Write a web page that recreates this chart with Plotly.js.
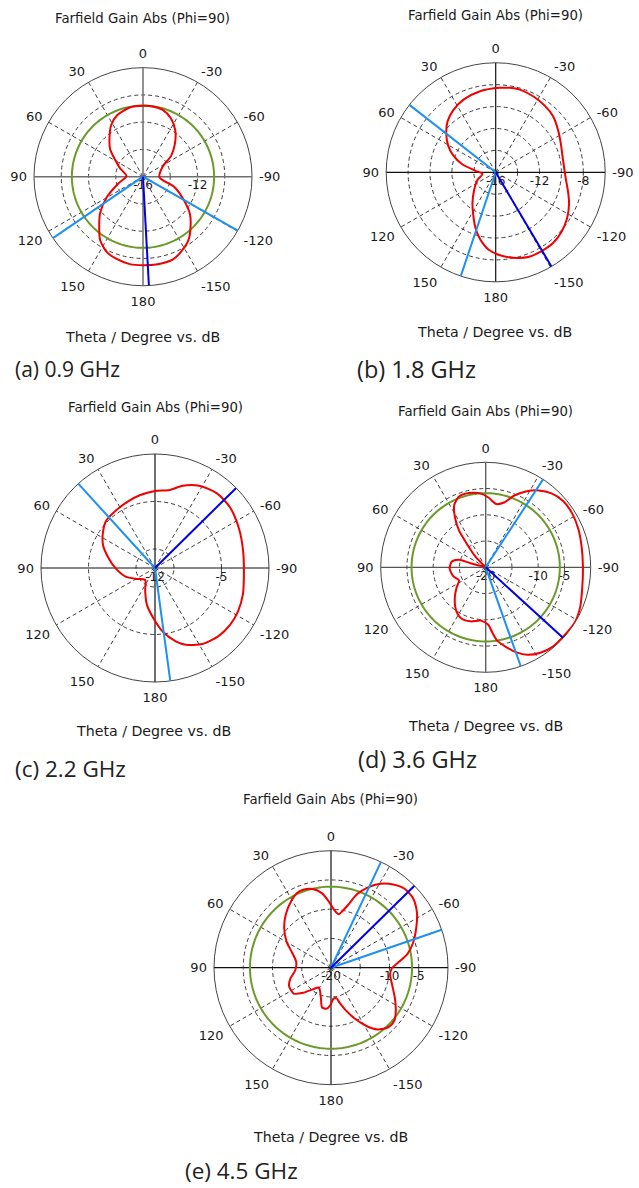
<!DOCTYPE html>
<html><head><meta charset="utf-8">
<script src="https://cdn.plot.ly/plotly-3.0.1.min.js"></script>
<style>html,body{margin:0;padding:0;background:#fff}#chart{width:639px;height:1188px}</style>
</head><body><div id="chart"></div>
<script>
// ---------------- data (theta in degrees, gain in dB) ----------------
const angTickVals = [0,30,60,90,120,150,180,210,240,270,300,330];
const angTickText = ["0","30","60","90","120","150","180","-150","-120","-90","-60","-30"];
const axisSpokes = [0,90,180,270];
const gridSpokes = [30,60,120,150,210,240,300,330];

const captions = ["(a) 0.9 GHz","(b) 1.8 GHz","(c) 2.2 GHz","(d) 3.6 GHz","(e) 4.5 GHz"];
const plotTitle = "Farfield Gain Abs (Phi=90)";
const axisTitle = "Theta / Degree vs. dB";

const thetaA = [0,10.8,22.6,31.8,41.7,50.2,58.6,69.5,87.7,105.5,119.6,130,139.6,146,154.4,162.2,171.4,180,-171.5,-160.3,-153.4,-144.4,-137.3,-128.7,-120.2,-108.1,-92.3,-62.6,-53.7,-44.4,-34.9,-25.7,-16.5,-8];
const gainA  = [-10.79,-10.83,-11.10,-11.56,-12.30,-12.86,-13.59,-14.19,-14.79,-14.12,-12.94,-11.90,-11.04,-10.38,-9.86,-9.66,-9.51,-9.51,-9.49,-9.54,-9.81,-10.27,-10.86,-11.58,-12.50,-13.58,-14.79,-14.37,-13.45,-12.66,-11.86,-11.26,-10.89,-10.79];

const thetaB = [-2.9,10.9,23.9,33.9,43.4,51.6,60.1,67.9,76.2,85.4,97.1,112.8,129.4,143.3,153.5,161.3,167.6,174.6,-177,-168.4,-159,-149.8,-140.9,-132.2,-122.9,-113,-105,-94.9,-79.6,-65.9,-56.9,-45.7,-36.3,-26.2,-16.3,-9.6];
const gainB  = [-8.28,-8.46,-8.74,-9.11,-9.60,-10.24,-10.97,-11.78,-12.82,-14.11,-14.78,-14.19,-13.45,-12.45,-11.45,-10.42,-9.64,-8.91,-8.41,-8.04,-7.71,-7.68,-7.69,-7.90,-8.24,-8.72,-9.16,-9.58,-9.75,-9.49,-9.16,-8.68,-8.44,-8.26,-8.13,-8.18];

const thetaC = [0,11.4,22.7,34.2,46,55.9,65.9,76.5,91,106.3,121.4,140.7,156.8,167.5,178.2,-172.8,-163.9,-158,-148.2,-137,-127.4,-117.6,-106.7,-93.7,-78.3,-64.2,-50.8,-39.7,-28.2,-18.6,-10.7];
const gainC  = [-3.89,-4.16,-4.45,-4.68,-4.85,-5.38,-6.00,-6.89,-7.88,-8.78,-9.79,-10.37,-9.37,-8.05,-6.71,-5.21,-3.94,-3.29,-2.58,-2.20,-2.08,-2.14,-2.34,-2.62,-2.54,-2.22,-1.84,-1.79,-2.18,-2.87,-3.64];

const thetaD = [55,43.6,38.9,36,31.5,26.8,20.6,12.8,4.3,-2.2,-9.6,-16.2,-21.7,-27.8,-34.6,-41.7,-49.4,-58.2,-67.5,-77.5,-89.6,-101.6,-113,-122.1,-132.4,-139.7,-147.4,-154.6,-160.4,-165.6,-171,-174.3,-177.4,174.9,164.2,153.7,144.6,134.3,124.4,116,105.3,91.7,80.3,74.2,75,70];
const gainD  = [-19.6,-17.12,-14.4,-11.38,-8.76,-6.7,-5.6,-5.5,-5.88,-6.7,-7.78,-7.1,-5.28,-3.66,-2.2,-1.14,-0.58,-0.6,-0.9,-1.3,-1.48,-1.22,-0.46,-0.04,-0.2,-0.2,-0.68,-1.54,-2.84,-4.32,-5.82,-7.56,-9.04,-9.8,-9.3,-9.24,-10.16,-11.78,-13.32,-14.34,-13.58,-13.12,-13.46,-14.72,-16.98,-19.4];

const thetaE = [19.7,13.1,6.8,1.6,-3.8,-8.1,-10.9,-14.9,-19.5,-24.7,-30.6,-36.8,-43.2,-50,-57.3,-64.3,-72.8,-79.7,-84.7,-90.7,-96.8,-106.5,-115.5,-123.3,-130,-135.9,-143,-148.7,-154.6,-160.8,-166.3,-170,-176,180,174.3,167.4,161.7,148.8,139.7,132,124.7,113.4,104.6,94,80.8,68.9,60,49.9,40.2,31,24.7];
const gainE  = [-5.86,-6.2,-7.2,-8.78,-10.24,-10.78,-10.26,-9.0,-6.7,-4.88,-3.34,-2.24,-1.54,-1.64,-2.54,-3.8,-5.28,-6.7,-8.22,-9.62,-9.82,-9.06,-7.9,-6.74,-5.88,-5.86,-6.78,-8.34,-10.28,-12.28,-13.86,-14.72,-14.62,-13.8,-12.98,-13.02,-14.52,-16.02,-15.14,-13.58,-12.24,-12.18,-12.86,-13.88,-13.98,-12.88,-11.26,-9.54,-8.04,-6.76,-6.0];

// radial scales
const rangeA = [-16,-8],  ringsA = [-16,-14,-12,-10,-8],      ringLabA = ["-16","","-12","",""];
const rangeB = [-16,-6],  ringsB = [-16,-14,-12,-10,-8,-6],   ringLabB = ["-16","","-12","","-8",""];
const rangeC = [-12,0],   ringsC = [-12,-10,-5,0],            ringLabC = ["-12","","-5",""];
const rangeD = [-20,0],   ringsD = [-20,-15,-10,-5,0],        ringLabD = ["-20","","-10","-5",""];
const rangeE = [-20,0],   ringsE = [-20,-15,-10,-5,0],        ringLabE = ["-20","","-10","-5",""];

// -3 dB level circles (null = not shown)
const levelA = -10.78, levelB = null, levelC = null, levelD = -5.88, levelE = -6.15;
// 3 dB angular width limits (light blue) and main lobe direction (dark blue)
const beamA = [124.3,-119.7], mainA = [-176.9];
const beamB = [52,161.4],     mainB = [-149.4];
const beamC = [42.3,-172.3],  mainC = [-45.4];
const beamD = [-33.1,-160.5], mainD = [-132.4];
const beamE = [-25.3,-71.1],  mainE = [-45.5];

// ---------------- layout (pixel geometry) ----------------
const W = 639, H = 1188;
const panels = [
  {theta:thetaA, gain:gainA, range:rangeA, rings:ringsA, ringLab:ringLabA, level:levelA, beam:beamA, main:mainA,
   cx:143, cy:176.7, R:109, axisColor:'#6e6e6e', axisWidth:1.5, title:[142,18.3], axt:[142.5,336.7], cap:[12.7,369,21]},
  {theta:thetaB, gain:gainB, range:rangeB, rings:ringsB, ringLab:ringLabB, level:levelB, beam:beamB, main:mainB,
   cx:495.7, cy:172.3, R:109.5, axisColor:'#111', axisWidth:1.2, title:[495,15], axt:[494.2,331.7], cap:[355,369,23.5]},
  {theta:thetaC, gain:gainC, range:rangeC, rings:ringsC, ringLab:ringLabC, level:levelC, beam:beamC, main:mainC,
   cx:155, cy:568, R:114, axisColor:'#111', axisWidth:1.2, title:[155,407.5], axt:[153.3,730.7], cap:[13.3,768,22.5]},
  {theta:thetaD, gain:gainD, range:rangeD, rings:ringsD, ringLab:ringLabD, level:levelD, beam:beamD, main:mainD,
   cx:485.7, cy:567.3, R:105, axisColor:'#555', axisWidth:1.3, title:[485.8,411.7], axt:[485,725.7], cap:[356,759,23.5]},
  {theta:thetaE, gain:gainE, range:rangeE, rings:ringsE, ringLab:ringLabE, level:levelE, beam:beamE, main:mainE,
   cx:331, cy:967.7, R:117, axisColor:'#111', axisWidth:1.2, title:[330.8,799], axt:[330.8,1137.3], cap:[183.3,1170.5,22.5]}
];

const FONT = "DejaVu Sans, Verdana, sans-serif";
const traces = [];
const layout = {
  width: W, height: H, margin:{l:0,r:0,t:0,b:0,pad:0},
  paper_bgcolor:'#fff', showlegend:false, annotations:[]
};

function spokes(angles, rmin, rmax) {
  const r = [], t = [];
  angles.forEach(a => { r.push(rmin, rmax, null); t.push(a, a, null); });
  return {r, t};
}

panels.forEach((p, i) => {
  const key = i === 0 ? 'polar' : 'polar' + (i+1);
  const rmin = p.range[0], rmax = p.range[1];
  layout[key] = {
    domain:{x:[(p.cx-p.R)/W,(p.cx+p.R)/W], y:[1-(p.cy+p.R)/H, 1-(p.cy-p.R)/H]},
    bgcolor:'#fff',
    angularaxis:{rotation:90, direction:'counterclockwise', tickmode:'array',
      tickvals:angTickVals, ticktext:angTickText, showline:true, linecolor:'#444', linewidth:1,
      showgrid:false, layer:'below traces',
      ticks:'outside', ticklen:4, tickcolor:'rgba(0,0,0,0)',
      tickfont:{family:FONT, size:13, color:'#1a1a1a'}},
    radialaxis:{range:p.range, tickmode:'array', tickvals:p.rings, ticktext:p.ringLab,
      showline:false, ticks:'', angle:0, side:'clockwise', layer:'below traces',
      showgrid:true, gridcolor:'#3c3c3c', gridwidth:1, griddash:'4px,3px',
      tickfont:{family:FONT, size:12, color:'#1a1a1a'}}
  };
  // dashed angular grid spokes every 30 degrees
  const gs = spokes(gridSpokes, rmin, rmax);
  traces.push({type:'scatterpolar', subplot:key, mode:'lines', hoverinfo:'skip',
    r:gs.r, theta:gs.t, line:{color:'#3c3c3c', width:1, dash:'4px,3px'}});
  // solid cross axes (four spokes from the centre)
  const ax = spokes(axisSpokes, rmin, rmax);
  traces.push({type:'scatterpolar', subplot:key, mode:'lines', hoverinfo:'skip',
    r:ax.r, theta:ax.t, line:{color:p.axisColor, width:p.axisWidth}});
  // -3 dB level circle
  if (p.level !== null) {
    const th = [], rr = [];
    for (let a = 0; a <= 360; a += 2) { th.push(a); rr.push(p.level); }
    traces.push({type:'scatterpolar', subplot:key, mode:'lines', hoverinfo:'skip',
      r:rr, theta:th, line:{color:'#6b9a2a', width:2}});
  }
  // pattern
  const n = Math.min(p.theta.length, p.gain.length);
  const th = p.theta.slice(0,n).concat([p.theta[0]]);
  const g = p.gain.slice(0,n).concat([p.gain[0]]);
  traces.push({type:'scatterpolar', subplot:key, mode:'lines', r:g, theta:th,
    line:{color:'#f00000', width:2, shape:'spline', smoothing:0.7}});
  // beam width lines and main lobe direction
  const b = spokes(p.beam, rmin, rmax);
  traces.push({type:'scatterpolar', subplot:key, mode:'lines', hoverinfo:'skip',
    r:b.r, theta:b.t, line:{color:'#1e90f0', width:2}});
  const m = spokes(p.main, rmin, rmax);
  traces.push({type:'scatterpolar', subplot:key, mode:'lines', hoverinfo:'skip',
    r:m.r, theta:m.t, line:{color:'#0000e0', width:2}});

  layout.annotations.push(
    {text:plotTitle, xref:'paper', yref:'paper', x:p.title[0]/W, y:1-p.title[1]/H,
     xanchor:'center', yanchor:'middle', showarrow:false, font:{family:FONT, size:13.3, color:'#1a1a1a'}},
    {text:axisTitle, xref:'paper', yref:'paper', x:p.axt[0]/W, y:1-p.axt[1]/H,
     xanchor:'center', yanchor:'middle', showarrow:false, font:{family:FONT, size:14.2, color:'#1a1a1a'}},
    {text:captions[i], xref:'paper', yref:'paper', x:p.cap[0]/W, y:1-p.cap[1]/H,
     xanchor:'left', yanchor:'middle', showarrow:false, font:{family:"Open Sans, Noto Sans, sans-serif", size:p.cap[2], color:'#222'}}
  );
});

Plotly.newPlot('chart', traces, layout, {displayModeBar:false, staticPlot:true});
</script>
</body></html>
